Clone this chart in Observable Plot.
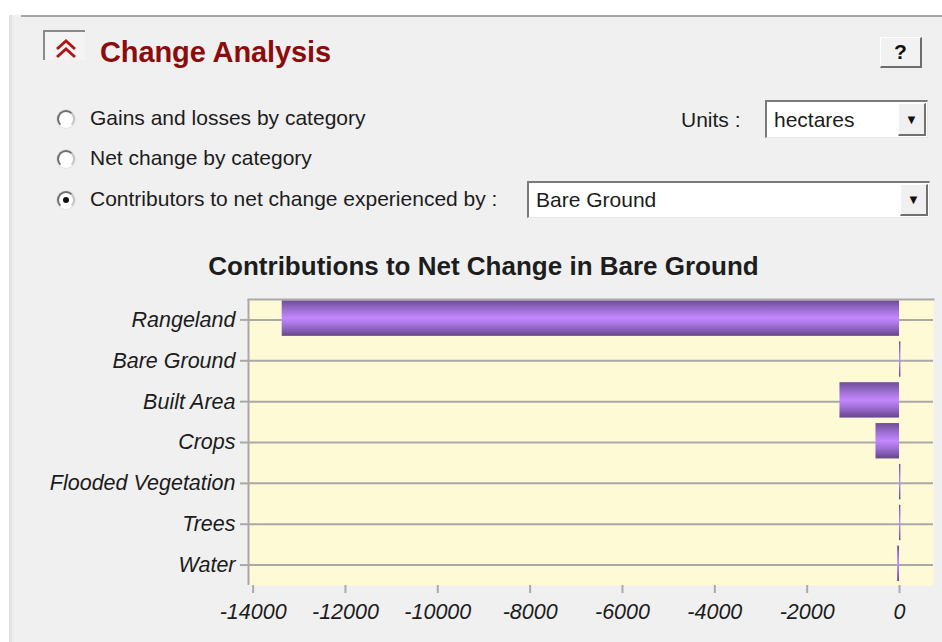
<!DOCTYPE html>
<html>
<head>
<meta charset="utf-8">
<script src="https://cdn.jsdelivr.net/npm/d3@7"></script>
<script src="https://cdn.jsdelivr.net/npm/@observablehq/plot@0.6"></script>
<style>
  html, body { margin: 0; padding: 0; background: #ffffff; width: 942px; height: 642px; overflow: hidden; font-family: "Liberation Sans", Arial, sans-serif; }
  #panel { position: absolute; left: 9px; top: 15px; width: 933px; height: 627px; background: #f0f0f0; border-left: 3px solid #e2e2e2; }
  #topline { position: absolute; left: 21px; top: 15px; width: 921px; height: 2px; background: #a6a6a6; }
  .abs { position: absolute; white-space: nowrap; }
  #collapse { left: 43px; top: 30px; width: 40px; height: 28px; border-top: 2px solid #8a8a8a; border-left: 2px solid #8a8a8a; background: #f4f4f4; }
  #title { left: 100px; top: 36px; font-size: 29px; font-weight: bold; color: #8c0c0c; letter-spacing: -0.1px; }
  #help { left: 880px; top: 37px; width: 39px; height: 28px; background: #f2f2f2; border-top: 1px solid #ffffff; border-left: 1px solid #ffffff; border-right: 2px solid #6e6e6e; border-bottom: 2px solid #6e6e6e; font-weight: bold; font-size: 21px; text-align: center; line-height: 28px; color: #111; }
  .radio { width: 14px; height: 14px; border-radius: 50%; border: 2px solid; border-color: #6f6f6f #c4c4c4 #ffffff #6f6f6f; background: #ffffff; box-shadow: 0 0 0 1px #e4e4e4; }
  .dot { position: absolute; left: 4px; top: 4px; width: 6px; height: 6px; border-radius: 50%; background: #111; }
  .lbl { font-size: 21px; color: #1c1c1c; }
  .combo { background: #ffffff; border-top: 2px solid #7a7a7a; border-left: 2px solid #7a7a7a; border-right: 1px solid #e6e6e6; border-bottom: 1px solid #e6e6e6; }
  .combo .txt { position: absolute; left: 7px; top: 0; font-size: 21px; color: #1c1c1c; }
  .combo .btn { position: absolute; right: 1px; top: 1px; width: 28px; background: #f0f0f0; border-right: 2px solid #707070; border-bottom: 2px solid #707070; border-top: 1px solid #fff; border-left: 1px solid #fff; box-sizing: border-box; text-align: center; font-size: 13px; color: #111; }
  #charttitle { left: 0; width: 967px; top: 251px; text-align: center; font-size: 26px; font-weight: bold; color: #1d1d1d; }
  #chart { position: absolute; left: 0; top: 280px; }
</style>
</head>
<body>
<div id="panel"></div>
<div id="topline"></div>

<div id="collapse" class="abs">
  <svg width="40" height="28" style="position:absolute;left:0;top:0">
    <polyline points="12,17 21,9 30,17" fill="none" stroke="#b01818" stroke-width="3"/>
    <polyline points="12,25 21,17 30,25" fill="none" stroke="#b01818" stroke-width="3"/>
  </svg>
</div>
<div id="title" class="abs">Change Analysis</div>
<div id="help" class="abs">?</div>

<div class="abs radio" style="left:57px;top:110px"></div>
<div class="abs lbl" style="left:90px;top:106px">Gains and losses by category</div>
<div class="abs radio" style="left:57px;top:150px"></div>
<div class="abs lbl" style="left:90px;top:146px">Net change by category</div>
<div class="abs radio" style="left:57px;top:191px"><div class="dot"></div></div>
<div class="abs lbl" style="left:90px;top:187px">Contributors to net change experienced by :</div>

<div class="abs lbl" style="left:681px;top:108px">Units :</div>
<div class="abs combo" style="left:765px;top:100px;width:160px;height:35px">
  <div class="txt" style="line-height:35px">hectares</div>
  <div class="btn" style="height:33px;line-height:31px">&#9660;</div>
</div>
<div class="abs combo" style="left:527px;top:181px;width:400px;height:34px">
  <div class="txt" style="line-height:34px">Bare Ground</div>
  <div class="btn" style="height:32px;line-height:30px">&#9660;</div>
</div>

<div id="charttitle" class="abs">Contributions to Net Change in Bare Ground</div>
<div id="chart"></div>

<script>
// Data (hectares)
const categories = ["Rangeland", "Bare Ground", "Built Area", "Crops", "Flooded Vegetation", "Trees", "Water"];
const contributions = [-13370, 30, -1290, -510, 30, 30, -40];
const xTicks = [-14000, -12000, -10000, -8000, -6000, -4000, -2000, 0];
const xDomain = [-14100, 736];

const data = categories.map((c, i) => ({category: c, value: contributions[i]}));

const gridColor = "#a9a9a9";
const plot = Plot.plot({
  width: 942,
  height: 362,
  marginTop: 19,
  marginBottom: 57,
  marginLeft: 248,
  marginRight: 9,
  style: {background: "transparent", fontFamily: "'Liberation Sans', Arial, sans-serif", fontSize: "21.5px", fontStyle: "italic", color: "#1c1c1c"},
  x: {domain: xDomain, ticks: xTicks, tickFormat: d => String(d), label: null},
  y: {domain: categories, padding: 0, round: false, label: null},
  marks: [
    Plot.frame({fill: "#fffad6", stroke: null}),
    Plot.gridY({stroke: gridColor, strokeOpacity: 1, strokeWidth: 2}),
    Plot.ruleX([xDomain[0]], {stroke: gridColor, strokeWidth: 2}),
    Plot.frame({anchor: "top", stroke: gridColor, strokeWidth: 2}),
    Plot.barX(data, {y: "category", x: "value", fill: "url(#barGrad)", insetTop: 1.5, insetBottom: 4}),
    Plot.axisX({ticks: xTicks, tickFormat: d => String(d), tickSize: 8, tickPadding: 10, stroke: gridColor, strokeWidth: 2, label: null}),
    Plot.axisY({tickSize: 8, tickPadding: 5, stroke: gridColor, strokeWidth: 2, label: null})
  ]
});

const ns = "http://www.w3.org/2000/svg";
const defs = document.createElementNS(ns, "defs");
const grad = document.createElementNS(ns, "linearGradient");
grad.setAttribute("id", "barGrad");
grad.setAttribute("x1", "0"); grad.setAttribute("y1", "0");
grad.setAttribute("x2", "0"); grad.setAttribute("y2", "1");
[["0", "#6f4c98"], ["0.3", "#a373da"], ["0.5", "#c487ff"], ["0.7", "#a271d8"], ["1", "#66448c"]].forEach(([o, c]) => {
  const s = document.createElementNS(ns, "stop");
  s.setAttribute("offset", o); s.setAttribute("stop-color", c);
  grad.appendChild(s);
});
defs.appendChild(grad);
plot.insertBefore(defs, plot.firstChild);

document.getElementById("chart").appendChild(plot);
</script>
</body>
</html>
